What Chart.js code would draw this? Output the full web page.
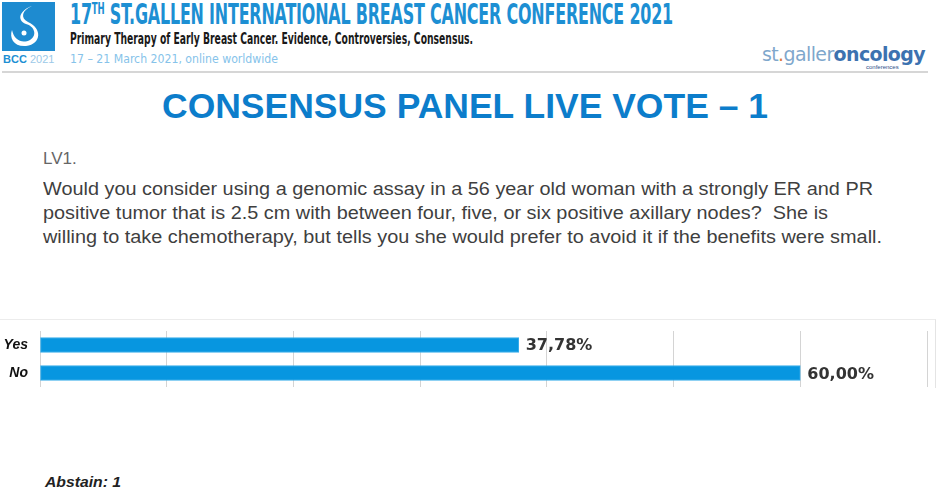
<!DOCTYPE html>
<html>
<head>
<meta charset="utf-8">
<script src="https://cdn.jsdelivr.net/npm/chart.js@4/dist/chart.umd.min.js"></script>
<style>
  html, body { margin: 0; padding: 0; background: #fff; }
  body { width: 939px; height: 496px; position: relative; overflow: hidden; font-family: "Liberation Sans", Arial, sans-serif; }
  .abs { position: absolute; white-space: nowrap; line-height: 1.1; }
  .fit { display: inline-block; transform-origin: 0 0; }
  #conf { left: 70px; top: 0px; line-height: 30px; font-family: "Liberation Sans Narrow", "DejaVu Sans Condensed", sans-serif; font-weight: bold; font-size: 28px; color: #1d8fd3; letter-spacing: -0.3px; }
  #conf .th { font-size: 15px; position: relative; top: -10px; }
  #sub { left: 70px; top: 31px; font-family: "Liberation Sans Narrow", "DejaVu Sans Condensed", sans-serif; font-weight: bold; font-size: 15px; color: #1a1a1a; }
  #dates { left: 70px; top: 52px; font-family: "Liberation Sans Narrow", "DejaVu Sans Condensed", sans-serif; font-size: 13px; color: #86c3ea; }
  #bcc { left: 3px; top: 53px; font-size: 11px; color: #9cc9e8; }
  #bcc b { color: #1d8fd3; }
  #rule { left: 2px; top: 71px; width: 926px; height: 2px; background: #d6d6d6; }
  #logo { left: 762px; top: 44px; font-family: "DejaVu Sans", sans-serif; font-size: 19px; letter-spacing: -0.6px; }
  #logo .a { color: #7fa7cc; }
  #logo .o { color: #e07a3a; }
  #logo .b { color: #3c72b0; font-weight: bold; }
  #confs { left: 866px; top: 64px; font-size: 6px; color: #2d4f8a; }
  #title { left: 162px; top: 87px; font-weight: bold; font-size: 35px; color: #0c7dcb; }
  #lv { left: 43px; top: 150px; font-size: 17px; color: #666; }
  .q { left: 43px; font-size: 17.5px; color: #3f3f3f; }
  #frame { left: 0px; top: 319px; width: 935px; height: 68px; border-top: 1px solid #ececec; border-right: 1px solid #e4e4e4; }
  #abstain { left: 45px; top: 474px; font-weight: bold; font-style: italic; font-size: 15px; color: #222; }
  #wrap { position: absolute; left: 0px; top: 320px; width: 939px; height: 80px; }
</style>
</head>
<body>
<svg class="abs" style="left:2px;top:2px" width="53" height="49" viewBox="0 0 53 49">
  <rect width="53" height="49" fill="#1e8bd0"/>
  <path d="M30 4 C20 8 18 16 26 20 C40 26 40 42 24 44 C12 45 7 36 10 28 C12 38 20 42 28 38 C36 33 32 24 24 22 C14 18 18 8 30 4 Z" fill="#fff"/>
  <circle cx="22" cy="31" r="2.5" fill="#fff"/>
</svg>
<div class="abs" id="bcc"><b>BCC</b> 2021</div>
<div class="abs" id="conf"><span class="fit" data-w="603">17<span class="th">TH</span> ST.GALLEN INTERNATIONAL BREAST CANCER CONFERENCE 2021</span></div>
<div class="abs" id="sub"><span class="fit" data-w="403">Primary Therapy of Early Breast Cancer. Evidence, Controversies, Consensus.</span></div>
<div class="abs" id="dates"><span class="fit" data-w="208">17 – 21 March 2021, online worldwide</span></div>
<div class="abs" id="logo"><span class="fit" data-w="163"><span class="a">st</span><span class="o">.</span><span class="a">galler</span><span class="b">oncology</span></span></div>
<div class="abs" id="confs">conferences</div>
<div class="abs" id="rule"></div>
<div class="abs" id="title"><span class="fit" data-w="606">CONSENSUS PANEL LIVE VOTE – 1</span></div>
<div class="abs" id="lv">LV1.</div>
<div class="abs q" style="top:180px"><span class="fit" data-w="830">Would you consider using a genomic assay in a 56 year old woman with a strongly ER and PR</span></div>
<div class="abs q" style="top:204px"><span class="fit" data-w="785">positive tumor that is 2.5 cm with between four, five, or six positive axillary nodes?&nbsp; She is</span></div>
<div class="abs q" style="top:228px"><span class="fit" data-w="839">willing to take chemotherapy, but tells you she would prefer to avoid it if the benefits were small.</span></div>
<div class="abs" id="frame"></div>
<div id="wrap"><canvas id="voteChart"></canvas></div>
<div class="abs" id="abstain"><span class="fit" data-w="76">Abstain: 1</span></div>

<script>
// squeeze header/text lines to the widths measured on the slide
document.querySelectorAll('.fit').forEach(function (el) {
  const w = parseFloat(el.dataset.w);
  const k = w / el.getBoundingClientRect().width;
  el.style.transform = 'scaleX(' + k + ')';
});

const categories = ['Yes', 'No'];
const votePercent = [37.78, 60.00];
const axisTicks = [0, 10, 20, 30, 40, 50, 60, 70];

const barBlue = '#0796e0';

// percent labels just past the bar ends
const valueLabels = {
  id: 'valueLabels',
  afterDatasetsDraw(chart) {
    const ctx = chart.ctx;
    const meta = chart.getDatasetMeta(0);
    ctx.save();
    ctx.font = 'bold 16px "DejaVu Sans", Verdana, sans-serif';
    ctx.fillStyle = '#333';
    ctx.textBaseline = 'middle';
    meta.data.forEach((bar, i) => {
      const txt = votePercent[i].toFixed(2).replace('.', ',') + '%';
      ctx.fillText(txt, bar.x + 7, bar.y + 1 + i);
    });
    ctx.restore();
  }
};

new Chart(document.getElementById('voteChart'), {
  type: 'bar',
  data: {
    labels: categories,
    datasets: [{
      data: votePercent,
      backgroundColor: barBlue,
      borderColor: '#3aaeea',
      borderWidth: 1,
      borderSkipped: false,
      barThickness: 15
    }]
  },
  options: {
    indexAxis: 'y',
    responsive: true,
    maintainAspectRatio: false,
    animation: false,
    layout: { padding: { top: 11, right: 12, bottom: 13, left: 0 } },
    plugins: { legend: { display: false }, tooltip: { enabled: false } },
    scales: {
      x: {
        min: axisTicks[0],
        max: axisTicks[axisTicks.length - 1],
        afterBuildTicks: (s) => { s.ticks = axisTicks.map(v => ({ value: v })); },
        ticks: { display: false },
        grid: { color: '#d4d4d4', lineWidth: 1, drawTicks: false },
        border: { display: false }
      },
      y: {
        // fixed label column, and no extra room reserved above/below the labels
        afterFit: (s) => { s.width = 40; s.paddingTop = 0; s.paddingBottom = 0; },
        ticks: {
          padding: 12,
          color: '#111',
          font: { family: '"Liberation Sans", Arial, sans-serif', size: 14, weight: 'bold', style: 'italic' }
        },
        grid: { display: false, drawTicks: false },
        border: { display: false }
      }
    }
  },
  plugins: [valueLabels]
});
</script>
</body>
</html>
